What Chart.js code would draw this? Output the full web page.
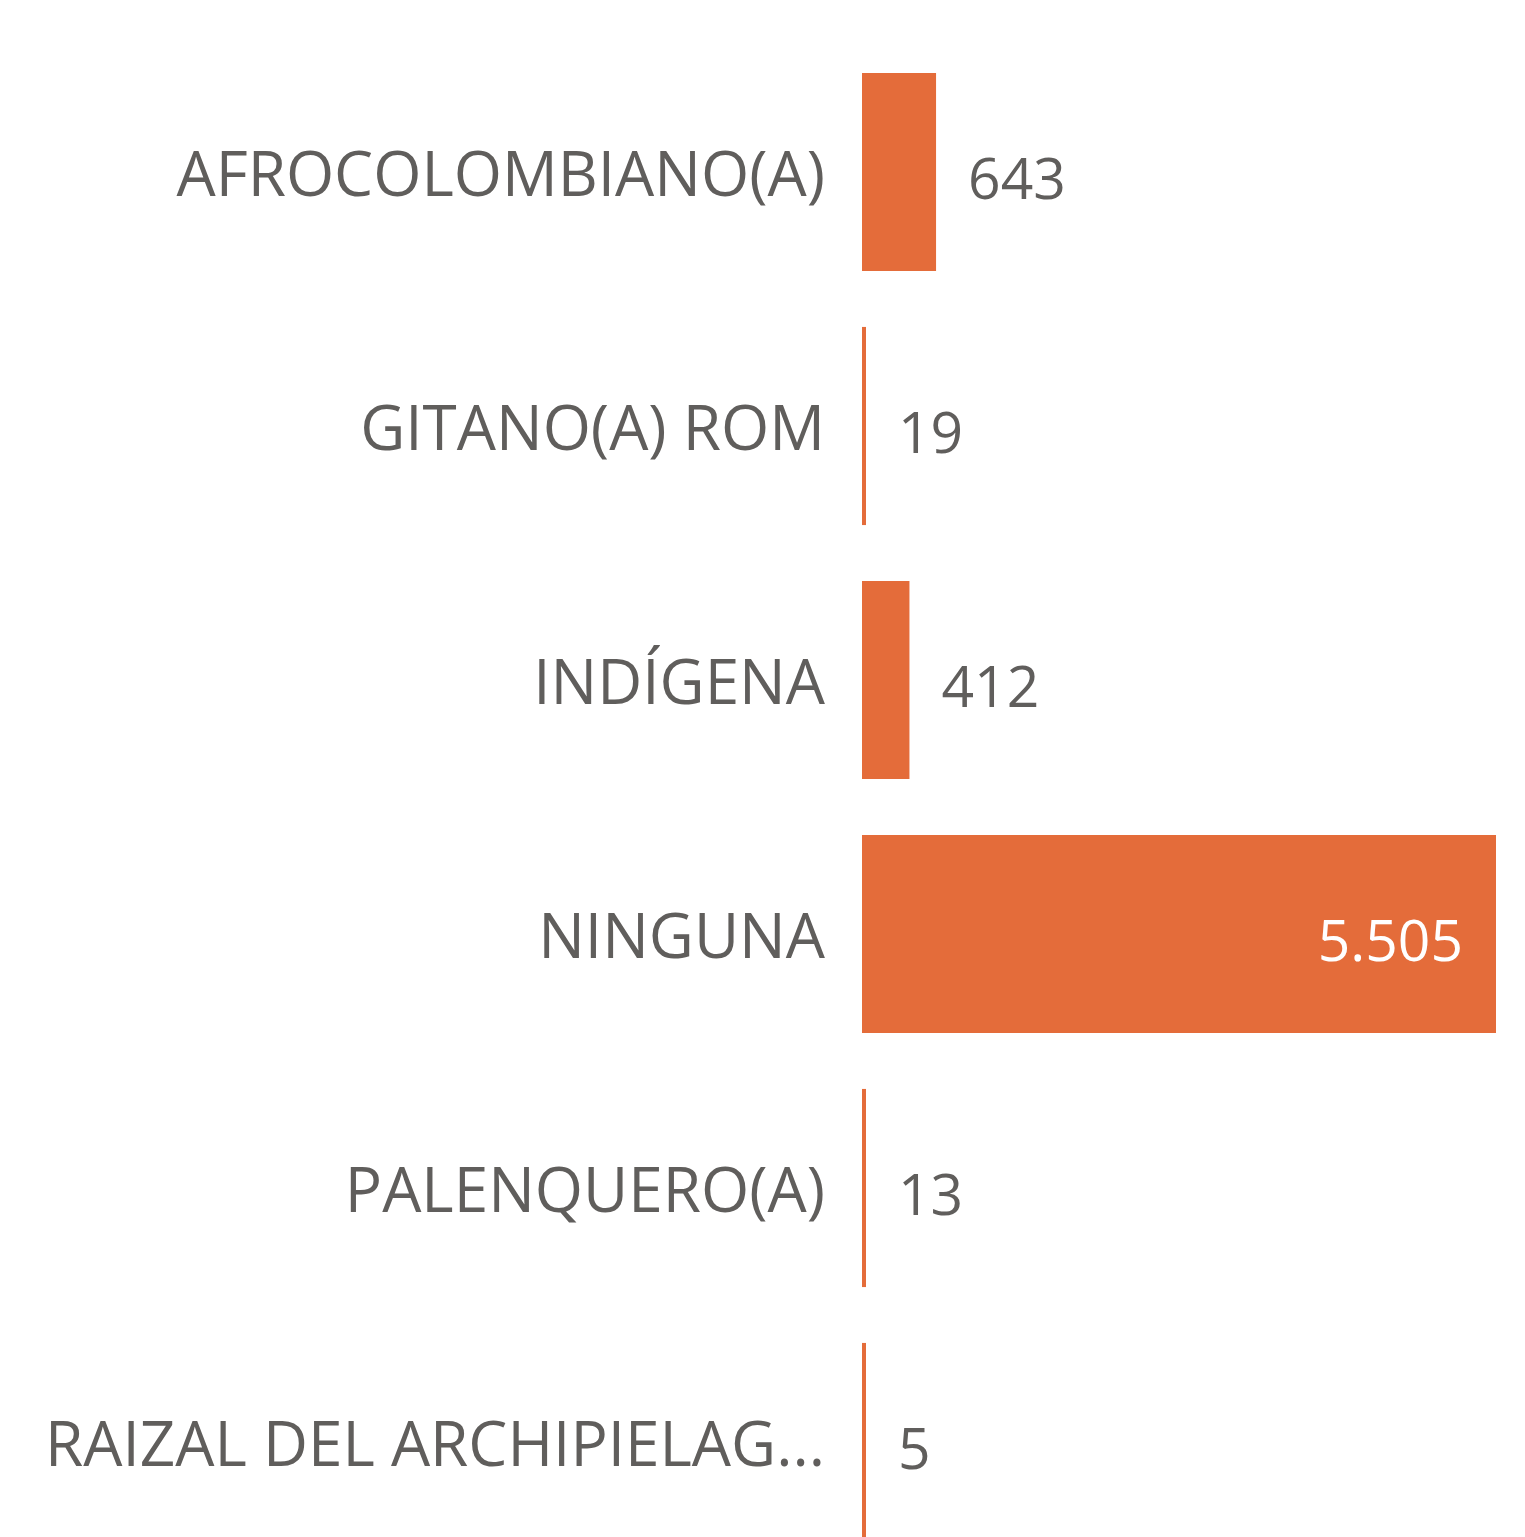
<!DOCTYPE html>
<html>
<head>
<meta charset="utf-8">
<script src="https://cdn.jsdelivr.net/npm/chart.js@4/dist/chart.umd.min.js"></script>
<style>
html,body{margin:0;padding:0;background:#fff;overflow:hidden;}
canvas{display:block;}
</style>
</head>
<body>
<canvas id="c" width="1525" height="1569"></canvas>
<script>
const categories = ["AFROCOLOMBIANO(A)", "GITANO(A) ROM", "INDÍGENA", "NINGUNA", "PALENQUERO(A)", "RAIZAL DEL ARCHIPIELAG..."];
const values = [643, 19, 412, 5505, 13, 5];

const FONT = "'Open Sans', 'Noto Sans', sans-serif";
const TEXT = '#605E5C';
const BAR = '#E46C3A';

function fmt(v){ return String(v).replace(/\B(?=(\d{3})+(?!\d))/g, '.'); }

const labelPlugin = {
  id: 'valueLabels',
  afterDatasetsDraw(chart){
    const ctx = chart.ctx;
    const meta = chart.getDatasetMeta(0);
    ctx.save();
    ctx.font = '57px ' + FONT;
    ctx.textBaseline = 'middle';
    meta.data.forEach((bar, i) => {
      const txt = fmt(values[i]);
      const w = ctx.measureText(txt).width;
      const y = bar.y + 11;
      if (bar.x + 33 + w > chart.chartArea.right) {
        ctx.fillStyle = '#FFFFFF';
        ctx.textAlign = 'right';
        ctx.fillText(txt, bar.x - 33, y);
      } else {
        ctx.fillStyle = TEXT;
        ctx.textAlign = 'left';
        ctx.fillText(txt, bar.x + 32, y);
      }
    });
    ctx.restore();
  }
};

new Chart(document.getElementById('c'), {
  type: 'bar',
  data: {
    labels: categories,
    datasets: [{
      data: values,
      backgroundColor: BAR,
      borderWidth: 0,
      categoryPercentage: 1,
      barPercentage: 0.78,
      minBarLength: 4
    }]
  },
  options: {
    indexAxis: 'y',
    responsive: false,
    animation: false,
    layout: { padding: { top: 45, right: 29, bottom: 0, left: 0 } },
    plugins: { legend: { display: false }, tooltip: { enabled: false } },
    scales: {
      x: { display: false, min: 0, max: 5505 },
      y: {
        grid: { display: false, drawTicks: false },
        border: { display: false },
        afterFit(scale){ scale.width = 862; scale.paddingTop = 0; scale.paddingBottom = 0; },
        ticks: { color: TEXT, font: { family: FONT, size: 62 }, padding: 37, labelOffset: 6 }
      }
    }
  },
  plugins: [labelPlugin]
});
</script>
</body>
</html>
